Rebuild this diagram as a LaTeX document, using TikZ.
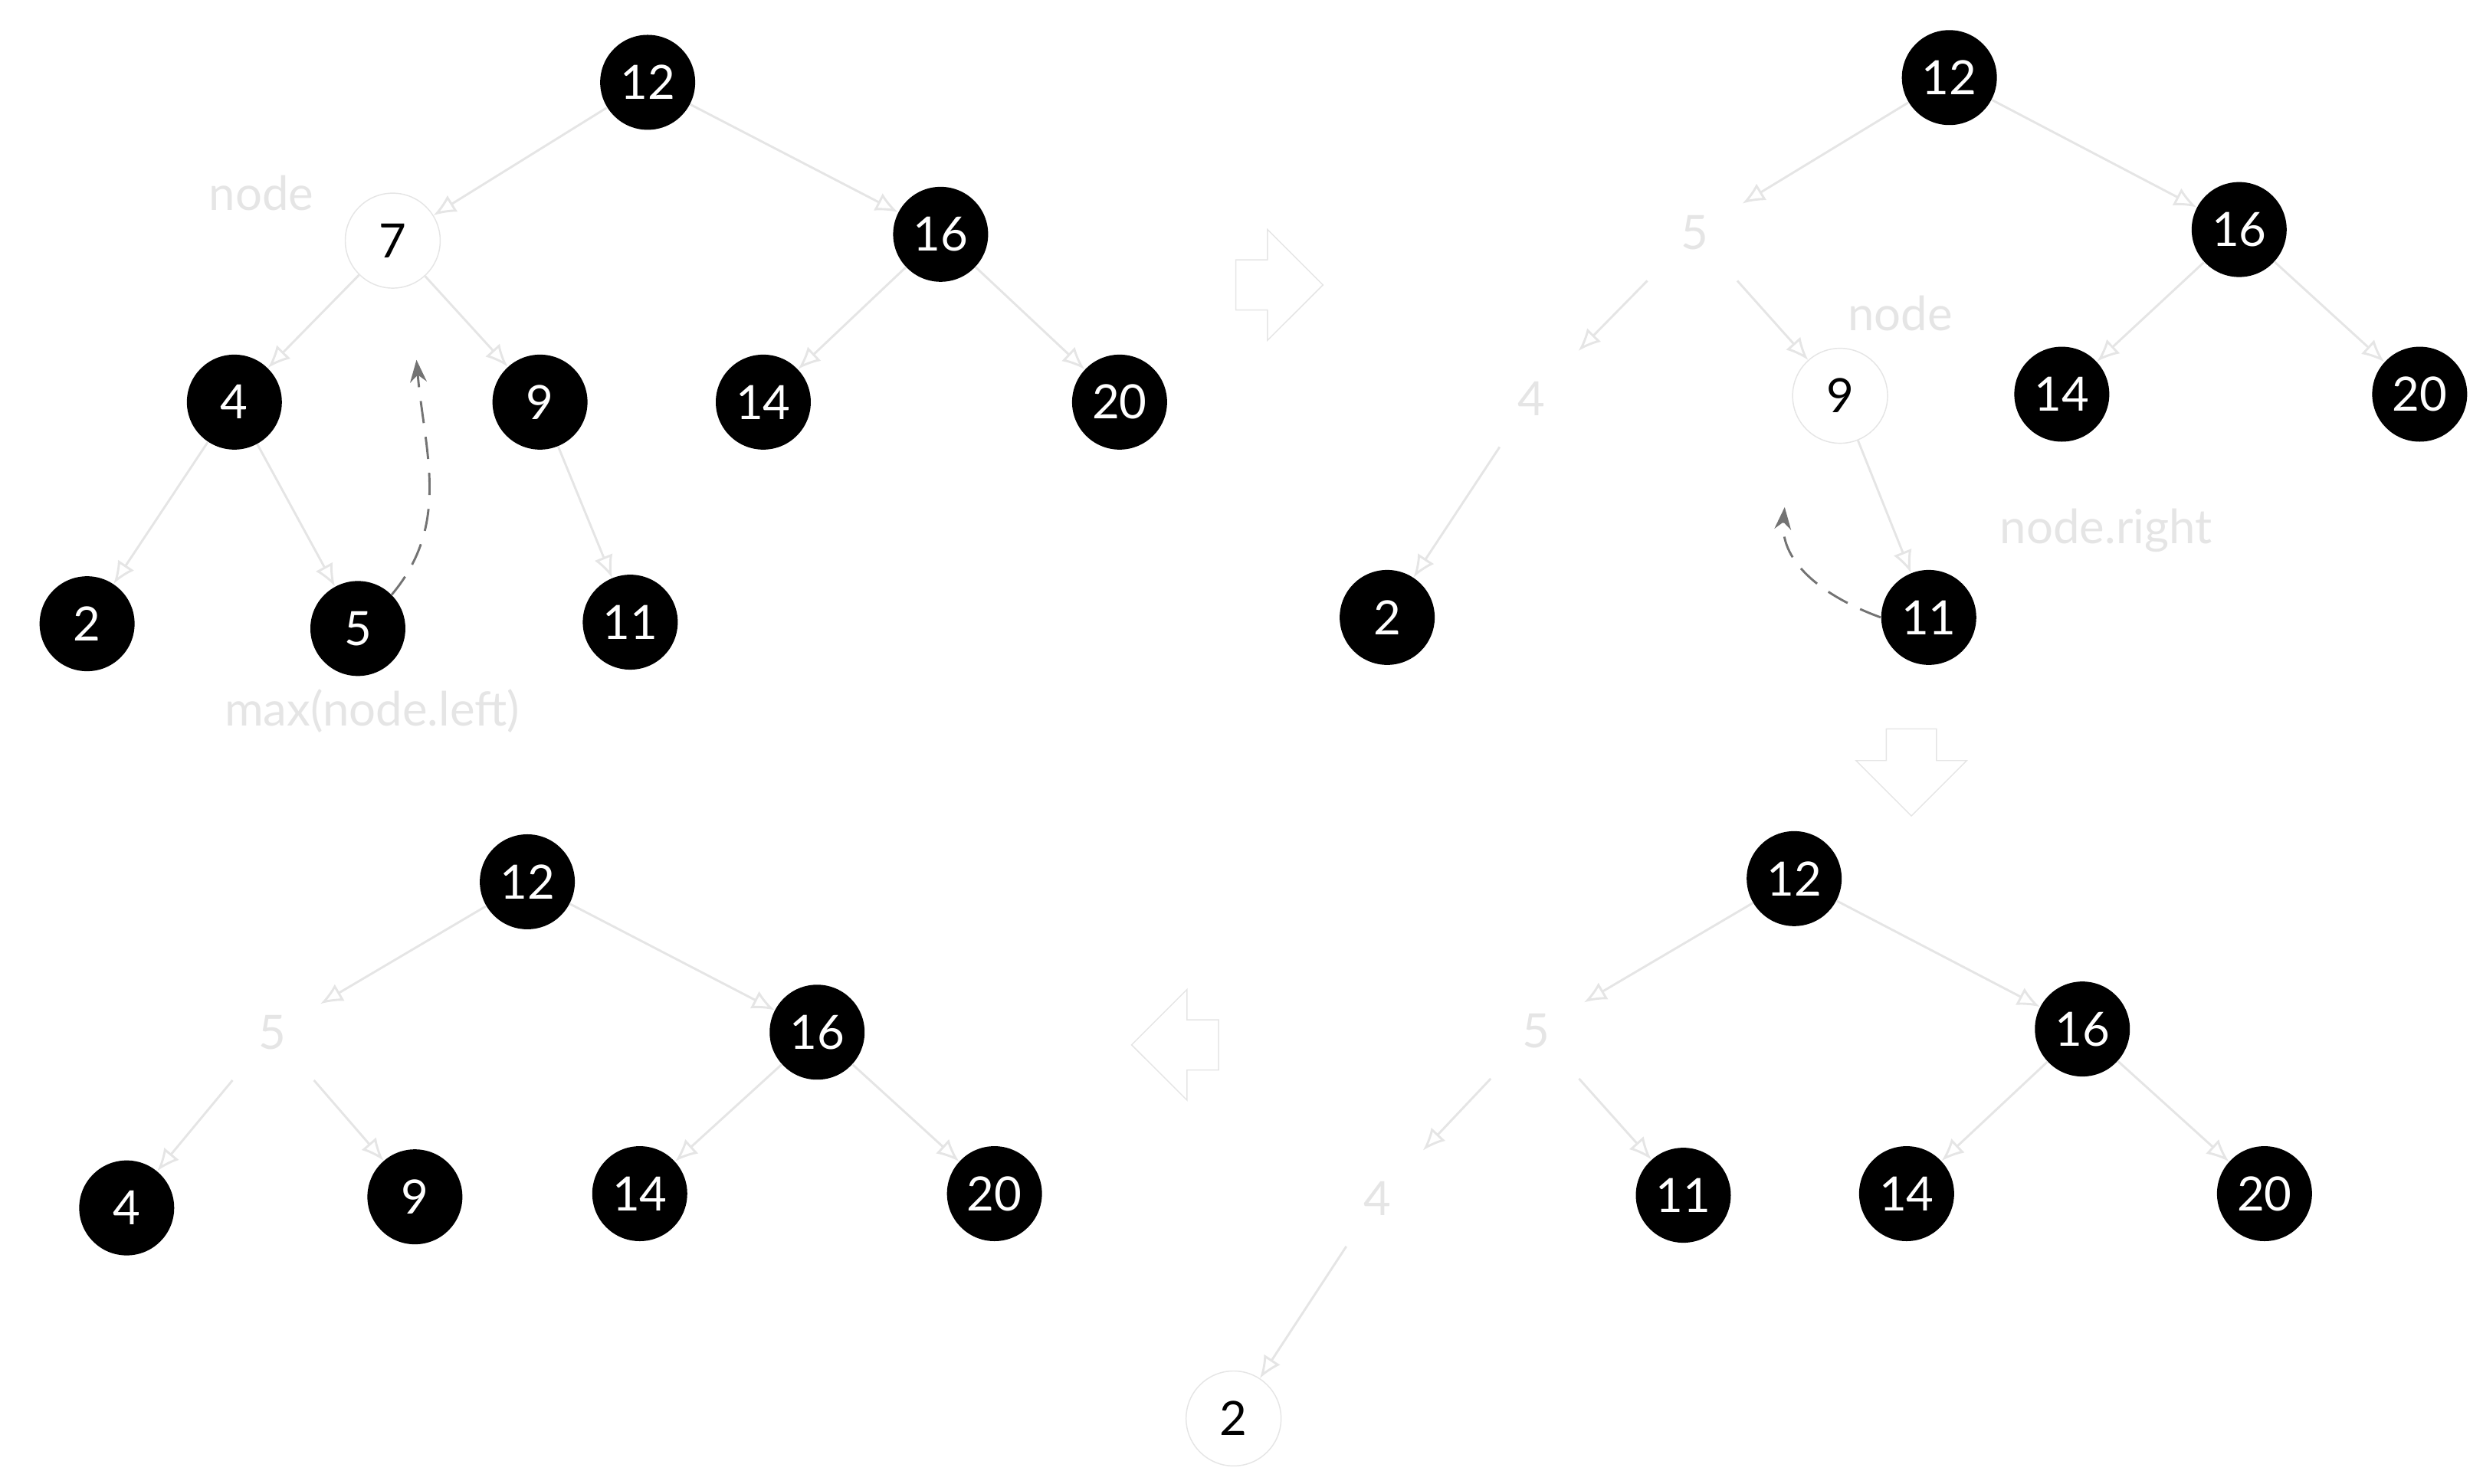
\documentclass[tikz,border=0pt]{standalone}
\usepackage{fontspec}
\setmainfont{Lato}
\usetikzlibrary{arrows.meta, shapes.arrows}
\definecolor{faint}{gray}{0.9}
\tikzset{%
    blk/.style={circle, fill=black, text=white, minimum size=1.2cm,
        inner sep=0pt, font=\fontsize{17}{20}\selectfont},
    wht/.style={circle, draw=faint, fill=white, text=black, minimum size=1.2cm,
        inner sep=0pt, font=\fontsize{17}{20}\selectfont},
    ghost/.style={text=faint, minimum size=1.2cm, inner sep=0pt,
        font=\fontsize{17}{20}\selectfont},
    lbl/.style={text=faint, font=\fontsize{17}{20}\selectfont},
    edge/.style={-{Latex[open, length=8pt, width=7pt]}, draw=faint, thick},
    back/.style={-{Stealth[length=8pt]}, draw=gray!90!black, thick,
        dash pattern=on 8pt off 5pt},
    stage/.style={single arrow, draw=faint, minimum height=1.1cm,
        minimum width=1.4cm, single arrow head extend=0.15cm}
}

\begin{document}
\begin{tikzpicture}[x=0.02cm, y=-0.02cm]
    \useasboundingbox (0, 0) rectangle (1568, 937);

    % first tree
    \foreach \nm/\val/\px/\py in {12/12/409/52, 16/16/594/148, 4/4/148/254,
        9/9/341/254, 14/14/482/254, 20/20/707/254, 2/2/55/394, 5/5/226/397,
        11/11/398/393}{%
        \node[blk] (a\nm) at (\px, \py) {\val};
    };
    \node[wht] (a7) at (248, 152) {7};
    \node[lbl] (anode) at (165, 122) {node};
    \node[lbl] (amax) at (235, 449) {max(node.left)};
    \foreach \u/\v in {12/7, 12/16, 7/4, 7/9, 16/14, 16/20, 4/2, 4/5, 9/11}{%
        \draw[edge] (a\u) -- (a\v);
    };
    \draw[back] (a5.north east) to [out=50, in=-85] ([xshift=0.3cm, yshift=-0.9cm] a7.south);

    % second tree
    \foreach \nm/\val/\px/\py in {12/12/1231/49, 16/16/1414/145, 14/14/1302/249,
        20/20/1528/249, 2/2/876/390, 11/11/1218/390}{%
        \node[blk] (b\nm) at (\px, \py) {\val};
    };
    \node[ghost] (b5) at (1070, 147) {5};
    \node[ghost] (b4) at (967, 252) {4};
    \node[wht] (b9) at (1162, 250) {9};
    \node[lbl] (bnode) at (1200, 198) {node};
    \node[lbl] (bright) at (1330, 335) {node.right};
    \foreach \u/\v in {12/5, 12/16, 5/4, 5/9, 16/14, 16/20, 4/2, 9/11}{%
        \draw[edge] (b\u) -- (b\v);
    };
    \draw[back] (b11.west) to [out=160, in=-95] ([xshift=-0.7cm, yshift=-0.8cm] b9.south);

    % third tree
    \foreach \nm/\val/\px/\py in {12/12/1133/555, 16/16/1315/650, 11/11/1063/755,
        14/14/1204/754, 20/20/1430/754}{%
        \node[blk] (c\nm) at (\px, \py) {\val};
    };
    \node[ghost] (c5) at (970, 651) {5};
    \node[ghost] (c4) at (870, 757) {4};
    \node[wht] (c2) at (779, 896) {2};
    \foreach \u/\v in {12/5, 12/16, 5/4, 5/11, 16/14, 16/20, 4/2}{%
        \draw[edge] (c\u) -- (c\v);
    };

    % fourth tree
    \foreach \nm/\val/\px/\py in {12/12/333/557, 16/16/516/652, 4/4/80/763,
        9/9/262/756, 14/14/404/754, 20/20/628/754}{%
        \node[blk] (d\nm) at (\px, \py) {\val};
    };
    \node[ghost] (d5) at (172, 652) {5};
    \foreach \u/\v in {12/5, 12/16, 5/4, 5/9, 16/14, 16/20}{%
        \draw[edge] (d\u) -- (d\v);
    };

    % steps between the trees
    \node[stage] (go1) at (800, 180) {};
    \node[stage, shape border rotate=270] (go2) at (1207, 480) {};
    \node[stage, shape border rotate=180] (go3) at (750, 660) {};

\end{tikzpicture}
\end{document}
